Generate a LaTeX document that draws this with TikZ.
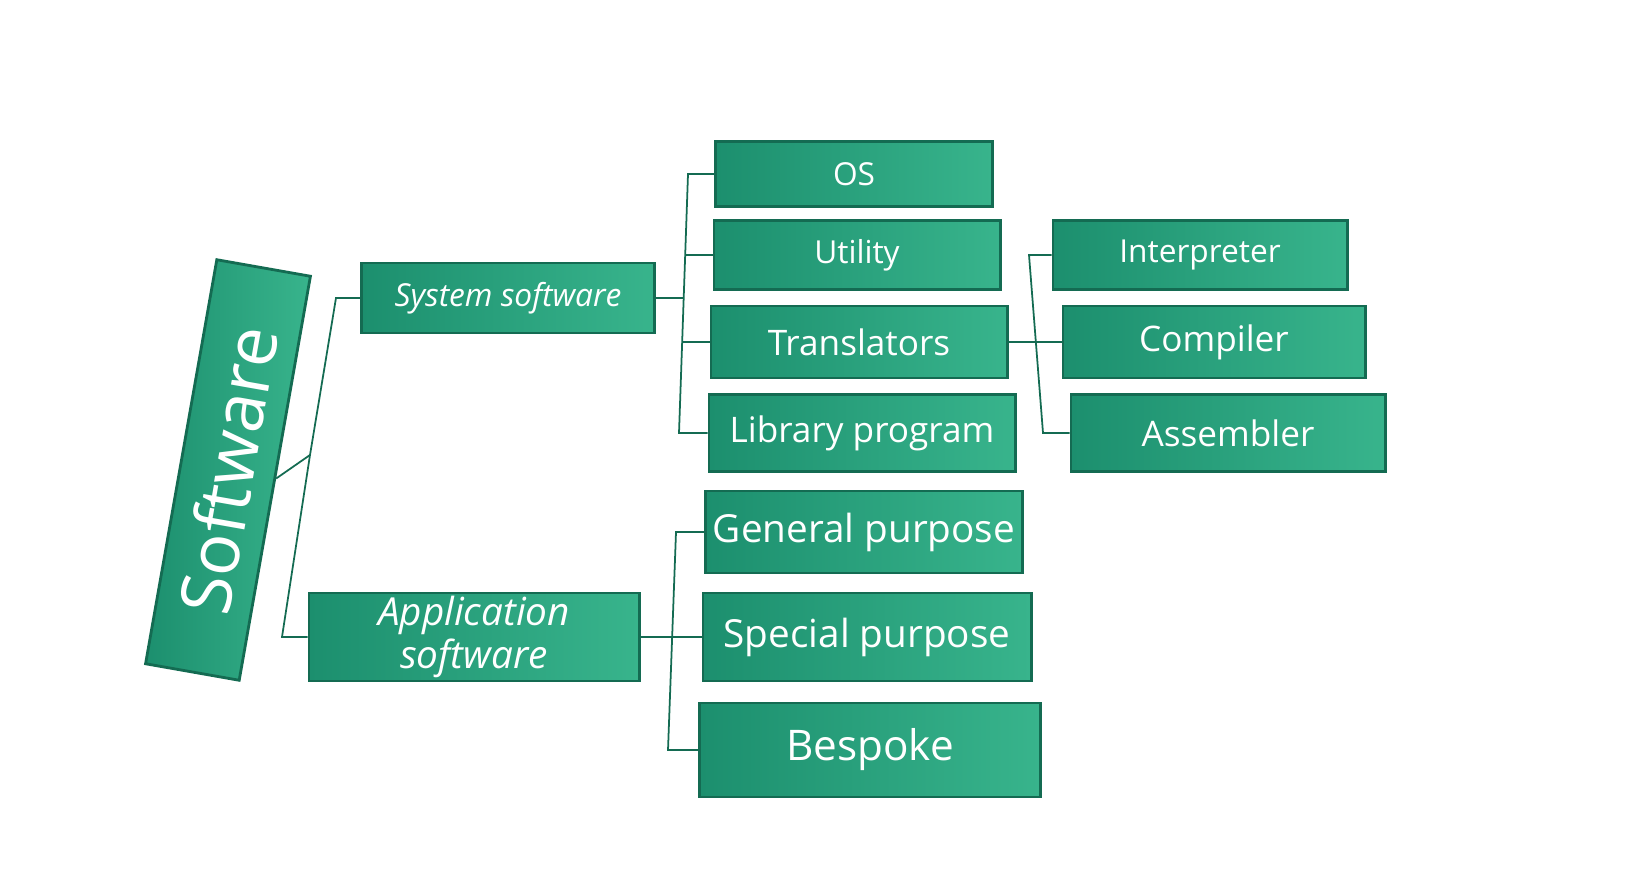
\documentclass[tikz,border=0pt]{standalone}
\usepackage{fontspec}
\setmainfont{Open Sans}
\usetikzlibrary{positioning}
\definecolor{boxdark}{HTML}{1C8F6E}
\definecolor{boxlight}{HTML}{38B48C}
\definecolor{edgedark}{HTML}{146B52}
\tikzset{
  box/.style={draw=edgedark, line width=0.8pt, left color=boxdark, right color=boxlight,
    text=white, inner sep=0pt, align=center, font=\fontsize{9}{11}\selectfont},
  link/.style={draw=edgedark, line width=0.5pt}
}
\begin{document}
\begin{tikzpicture}[x=0.01cm, y=-0.01cm]
\useasboundingbox (0,0) rectangle (1625,889);
\node[box, rotate=80, minimum width=4.1cm, minimum height=0.95cm, font=\fontsize{20}{22}\selectfont] (sw) at (228,470) {Software};
\node[box, minimum width=2.93cm, minimum height=0.7cm, font=\fontsize{9}{11}\selectfont\itshape] (sys) at (508,298) {System software};
\node[box, minimum width=3.3cm, minimum height=0.88cm, font=\fontsize{11}{12}\selectfont\itshape] (app) at (474,637) {Application\\software};

\node[box, minimum width=2.77cm, minimum height=0.65cm] (os) at (854,174) {OS};
\node[box, minimum width=2.86cm, minimum height=0.69cm] (util) at (857,255) {Utility};
\node[box, minimum width=2.96cm, minimum height=0.72cm, font=\fontsize{10}{12}\selectfont] (trans) at (859,342) {Translators};
\node[box, minimum width=3.06cm, minimum height=0.77cm, font=\fontsize{10}{12}\selectfont] (lib) at (862,433) {Library program};

\node[box, minimum width=3.17cm, minimum height=0.82cm, font=\fontsize{11}{12}\selectfont] (gen) at (864,532) {General purpose};
\node[box, minimum width=3.28cm, minimum height=0.88cm, font=\fontsize{11}{12}\selectfont] (spec) at (867,637) {Special purpose};
\node[box, minimum width=3.41cm, minimum height=0.94cm, font=\fontsize{12}{14}\selectfont] (besp) at (870,750) {Bespoke};

\node[box, minimum width=2.94cm, minimum height=0.69cm] (interp) at (1200,255) {Interpreter};
\node[box, minimum width=3.02cm, minimum height=0.72cm, font=\fontsize{10}{12}\selectfont] (comp) at (1214,342) {Compiler};
\node[box, minimum width=3.14cm, minimum height=0.77cm, font=\fontsize{10}{12}\selectfont] (asm) at (1228,433) {Assembler};

% first level
\coordinate (b1) at (310,455);
\draw[link] (sw.south) -- (b1);
\draw[link] (b1) -- (336,298) -- (sys.west);
\draw[link] (b1) -- (282,637) -- (app.west);

% system software
\draw[link] (sys.east) -- (684,298);
\draw[link] (os.west) -- (688,174) -- (679,433) -- (lib.west);
\draw[link] (util.west) -- (686,255);
\draw[link] (trans.west) -- (682,342);

% application software
\draw[link] (app.east) -- (670,637);
\draw[link] (gen.west) -- (676,532) -- (668,750) -- (besp.west);
\draw[link] (spec.west) -- (670,637);

% translators
\draw[link] (trans.east) -- (1036,342);
\draw[link] (interp.west) -- (1029,255) -- (1043,433) -- (asm.west);
\draw[link] (comp.west) -- (1036,342);
\end{tikzpicture}
\end{document}
